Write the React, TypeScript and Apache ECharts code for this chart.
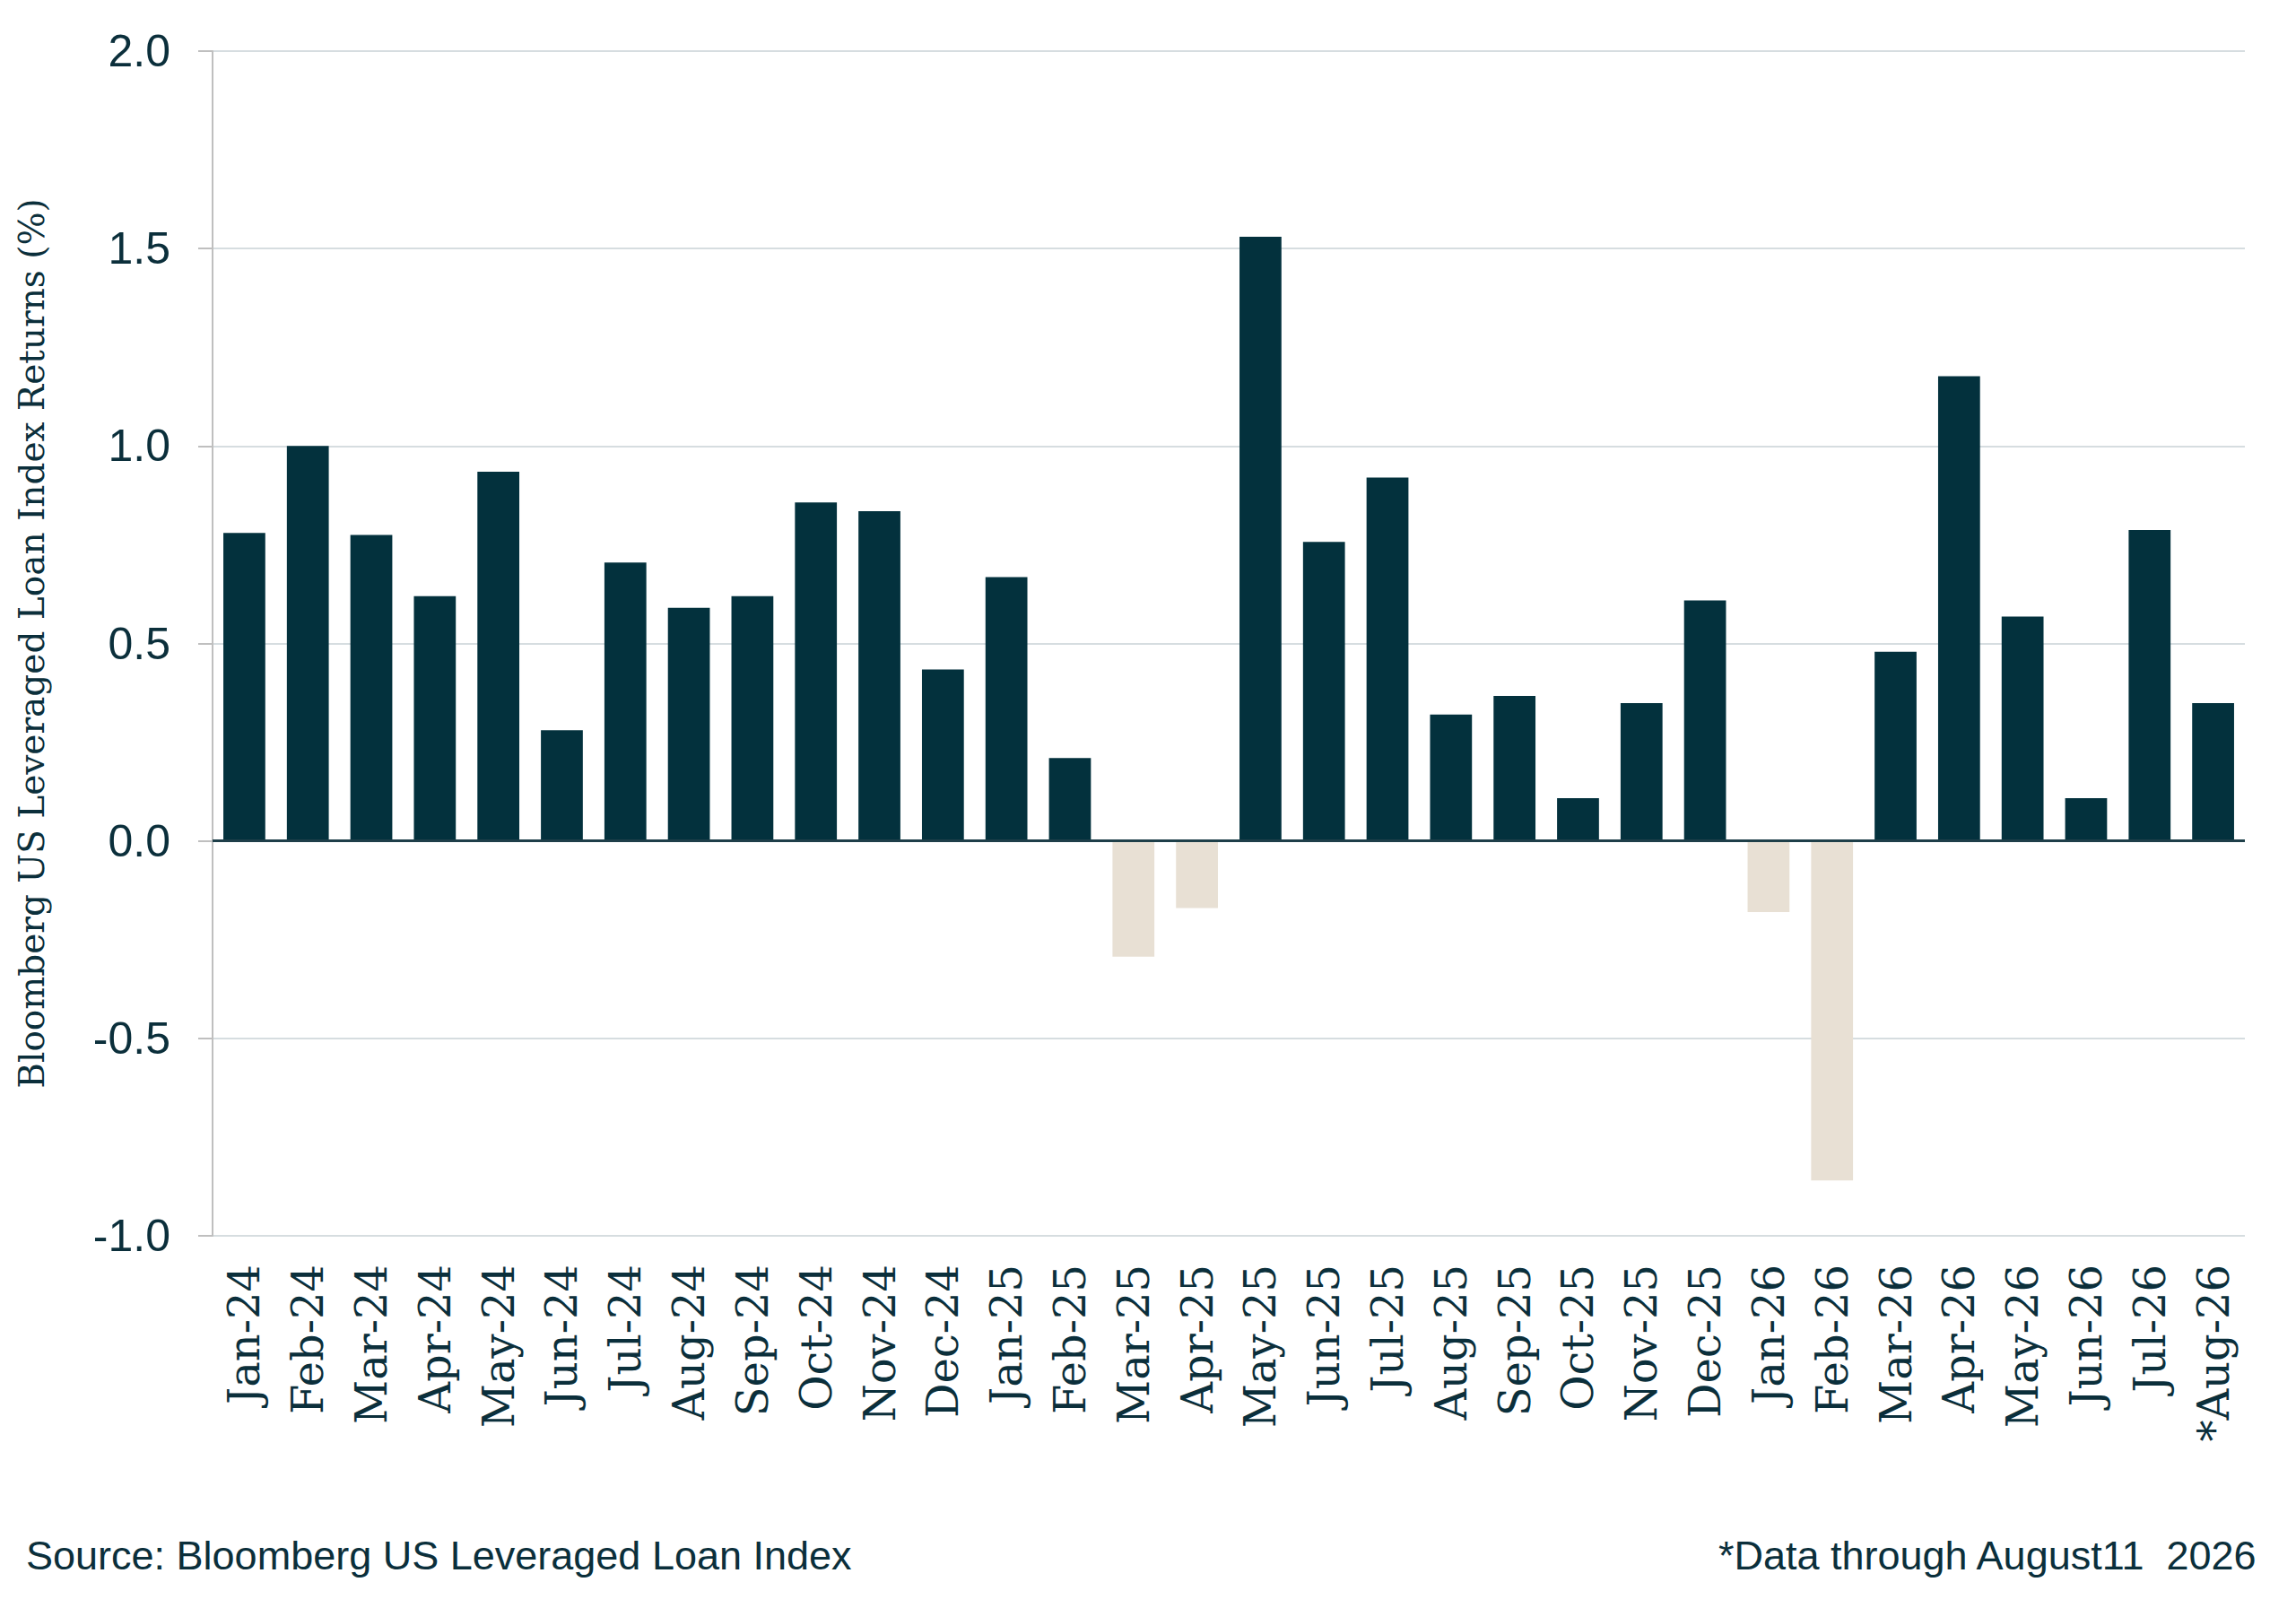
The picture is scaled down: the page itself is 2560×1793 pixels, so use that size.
import React, { useEffect, useRef } from "react";
import * as echarts from "echarts";

const categories = [
  "Jan-24", "Feb-24", "Mar-24", "Apr-24", "May-24", "Jun-24", "Jul-24", "Aug-24",
  "Sep-24", "Oct-24", "Nov-24", "Dec-24", "Jan-25", "Feb-25", "Mar-25", "Apr-25",
  "May-25", "Jun-25", "Jul-25", "Aug-25", "Sep-25", "Oct-25", "Nov-25", "Dec-25",
  "Jan-26", "Feb-26", "Mar-26", "Apr-26", "May-26", "Jun-26", "Jul-26", "*Aug-26",
];

const returnsPct = [
  0.78, 1.0, 0.775, 0.62, 0.935, 0.28, 0.705, 0.59,
  0.62, 0.857, 0.835, 0.434, 0.668, 0.21, -0.293, -0.17,
  1.53, 0.757, 0.92, 0.32, 0.367, 0.108, 0.349, 0.609,
  -0.18, -0.86, 0.479, 1.177, 0.568, 0.108, 0.787, 0.349,
];

const yTicks = { min: -1, max: 2, interval: 0.5 };

const axisTitle = "Bloomberg US Leveraged Loan Index Returns (%)";
const sourceNote = "Source: Bloomberg US Leveraged Loan Index";
const dataNote = "*Data through August11  2026";

const POS_COLOR = "#03313D";
const NEG_COLOR = "#E8E0D4";
const TEXT_COLOR = "#0B2F3B";

export default function App() {
  const ref = useRef<HTMLDivElement>(null);

  useEffect(() => {
    if (!ref.current) return;
    const chart = echarts.init(ref.current, undefined, { renderer: "svg" });
    const data = returnsPct.map((v) => ({
      value: v,
      itemStyle: { color: v >= 0 ? POS_COLOR : NEG_COLOR },
    }));
    chart.setOption({
      animation: false,
      backgroundColor: "#ffffff",
      grid: { left: 237, right: 57, top: 57, bottom: 415, containLabel: false },
      xAxis: {
        type: "category",
        data: categories,
        axisLine: { show: false, onZero: false },
        axisTick: { show: false },
        axisLabel: {
          rotate: 90,
          interval: 0,
          margin: 32,
          fontFamily: "DejaVu Serif",
          fontSize: 48,
          color: TEXT_COLOR,
        },
      },
      yAxis: {
        type: "value",
        min: yTicks.min,
        max: yTicks.max,
        interval: yTicks.interval,
        name: axisTitle,
        nameLocation: "middle",
        nameGap: 182,
        nameTextStyle: {
          fontFamily: "DejaVu Serif",
          fontSize: 39,
          color: TEXT_COLOR,
        },
        axisLine: { show: true, lineStyle: { color: "#BFBFBF", width: 2 } },
        axisTick: { show: true, length: 16, lineStyle: { color: "#BFBFBF", width: 2 } },
        axisLabel: {
          margin: 47,
          fontFamily: "Liberation Sans",
          fontSize: 50,
          color: TEXT_COLOR,
          formatter: (v: number) => v.toFixed(1),
        },
        splitLine: { show: true, lineStyle: { color: "#D6DDE0", width: 2 } },
      },
      series: [
        {
          type: "bar",
          data,
          barCategoryGap: "34%",
          markLine: {
            silent: true,
            symbol: ["none", "none"],
            label: { show: false },
            lineStyle: { color: "#1E3F49", width: 3, type: "solid" },
            data: [{ yAxis: 0 }],
          },
        },
      ],
      graphic: [
        {
          type: "text",
          left: 29,
          top: 1712,
          style: {
            text: sourceNote,
            fontFamily: "Liberation Sans",
            fontSize: 45,
            fill: TEXT_COLOR,
          },
        },
        {
          type: "text",
          right: 42,
          top: 1712,
          style: {
            text: dataNote,
            fontFamily: "Liberation Sans",
            fontSize: 45,
            fill: TEXT_COLOR,
          },
        },
      ],
    });
    return () => chart.dispose();
  }, []);

  return (
    <div
      ref={ref}
      style={{ position: "fixed", left: 0, top: 0, width: 2560, height: 1793 }}
    />
  );
}
